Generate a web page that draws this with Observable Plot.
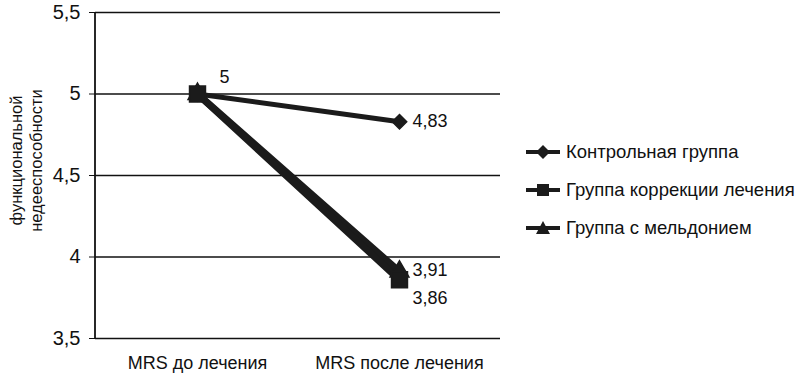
<!DOCTYPE html>
<html>
<head>
<meta charset="utf-8">
<script src="https://cdn.jsdelivr.net/npm/d3@7"></script>
<script src="https://cdn.jsdelivr.net/npm/@observablehq/plot@0.6"></script>
<style>
  html, body { margin: 0; padding: 0; background: #fff; }
  #wrap { position: relative; width: 800px; height: 390px; font-family: "Liberation Sans", Arial, sans-serif; }
  #legend { position: absolute; left: 525px; top: 140px; font-size: 18.5px; color: #111; }
  .item { display: flex; align-items: center; height: 24px; margin-bottom: 14px; }
  .item svg { margin-right: 5px; }
</style>
</head>
<body>
<div id="wrap"></div>
<script>
const categories = ["MRS до лечения", "MRS после лечения"];
const seriesNames = ["Контрольная группа", "Группа коррекции лечения", "Группа с мельдонием"];
const controlValues = [5, 4.83];
const correctionValues = [5, 3.86];
const meldoniumValues = [5, 3.91];
const yTicks = [3.5, 4, 4.5, 5, 5.5];
const yLabel = "функциональной\nнедееспособности";
const valueLabels = ["5", "4,83", "3,91", "3,86"];

const symbols = ["diamond2", "square", "triangle"];
const widths = [5, 7, 7];
const radii = [6.5, 9, 7];
const ink = "#1b1b1b";

const order = [0, 2, 1]; // draw control, meldonium, correction (on top)
const rows = [];
order.forEach(si => {
  const vals = [controlValues, correctionValues, meldoniumValues][si];
  categories.forEach((c, i) => rows.push({series: seriesNames[si], idx: si, cat: c, value: vals[i]}));
});

const labelRows = [
  {cat: categories[0], value: controlValues[0], text: valueLabels[0], dx: 22, dy: -17},
  {cat: categories[1], value: controlValues[1], text: valueLabels[1], dx: 13, dy: 0},
  {cat: categories[1], value: meldoniumValues[1], text: valueLabels[2], dx: 13, dy: -1},
  {cat: categories[1], value: correctionValues[1], text: valueLabels[3], dx: 13, dy: 18}
];

const marks = [
  Plot.ruleY(yTicks, {stroke: "#111", strokeWidth: 1.6}),
  Plot.axisY({ticks: yTicks, tickFormat: d => String(d).replace(".", ","), tickSize: 6, tickPadding: 9, fontSize: 20, label: null, stroke: "#111"}),
  Plot.axisX({tickSize: 0, tickPadding: 18, fontSize: 18, label: null}),
  Plot.text([yLabel], {frameAnchor: "left", textAnchor: "middle", rotate: -90, dx: -70, dy: -15, fontSize: 16.5, lineHeight: 1.25, fill: "#111"})
];
order.forEach(si => {
  const data = rows.filter(r => r.idx === si);
  marks.push(Plot.line(data, {x: "cat", y: "value", stroke: ink, strokeWidth: widths[si]}));
});
order.forEach(si => {
  const data = rows.filter(r => r.idx === si);
  marks.push(Plot.dot(data, {x: "cat", y: "value", symbol: () => symbols[si], r: radii[si], fill: ink, stroke: ink}));
});
labelRows.forEach(l => marks.push(Plot.text([l], {x: "cat", y: "value", text: "text", dx: l.dx, dy: l.dy, textAnchor: "start", fontSize: 18, fill: "#111"})));

const mL = 95, mT = 12, mB = 52, H = 390;
const chart = Plot.plot({
  width: 800, height: H,
  marginLeft: mL, marginRight: 300, marginTop: mT, marginBottom: mB,
  style: {fontFamily: "'Liberation Sans', Arial, sans-serif", background: "white", color: "#111"},
  x: {type: "point", domain: categories, padding: 0.5, label: null, axis: null},
  y: {domain: [3.5, 5.5], label: null, axis: null},
  symbol: {type: "identity"},
  marks
});

// vertical axis domain line
d3.select(chart).append("line")
  .attr("x1", mL).attr("x2", mL).attr("y1", mT).attr("y2", H - mB)
  .attr("stroke", "#111").attr("stroke-width", 1.8);

const wrap = document.getElementById("wrap");
wrap.appendChild(chart);

// legend
const legend = document.createElement("div");
legend.id = "legend";
const symPaths = {
  "diamond2": "M18,1 L25,8 L18,15 L11,8 Z",
  "square": "M12,2 L24,2 L24,14 L12,14 Z",
  "triangle": "M18,1 L25,14 L11,14 Z"
};
seriesNames.forEach((name, i) => {
  const it = document.createElement("div");
  it.className = "item";
  it.innerHTML = `<svg width="36" height="16"><line x1="1" x2="35" y1="8" y2="8" stroke="${ink}" stroke-width="4"/>` +
    `<path d="${symPaths[symbols[i]]}" fill="${ink}"/></svg><span>${name}</span>`;
  legend.appendChild(it);
});
wrap.appendChild(legend);
</script>
</body>
</html>
